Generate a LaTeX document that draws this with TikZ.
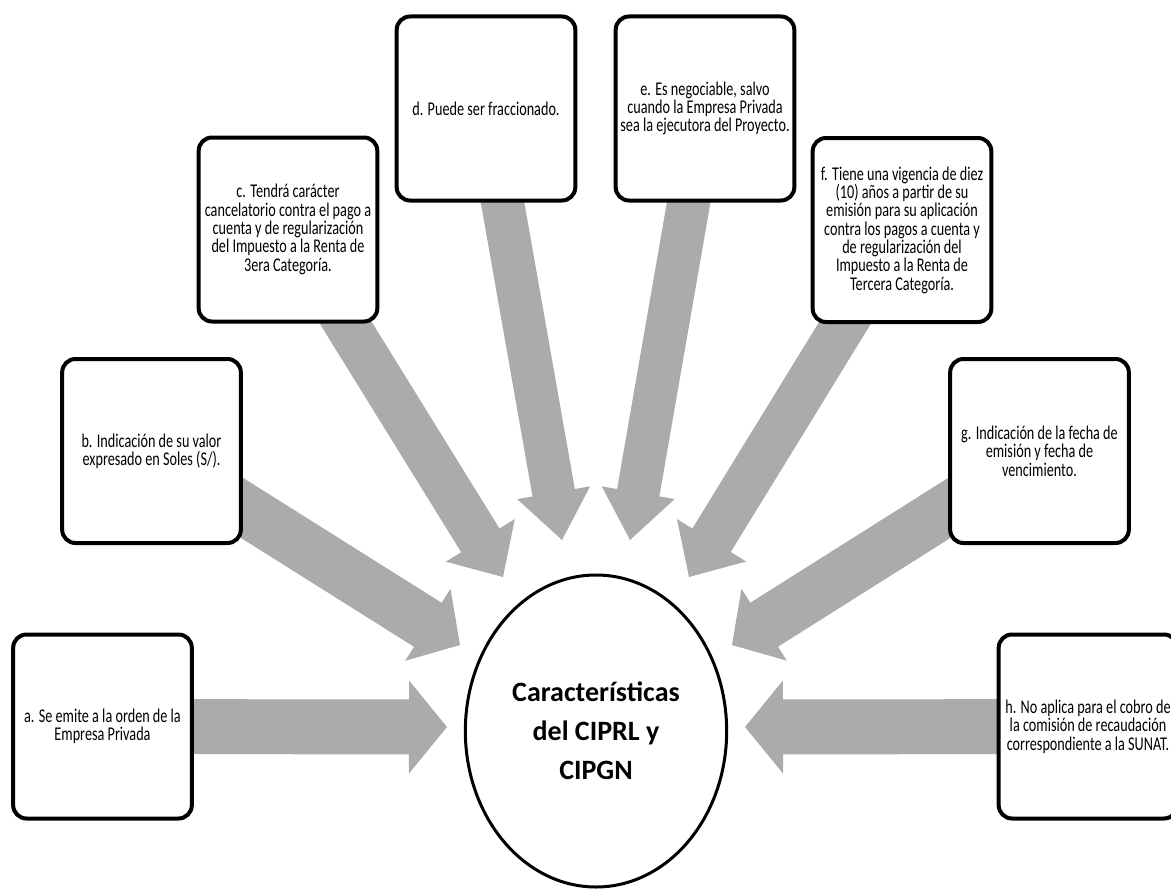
\documentclass[tikz,border=0pt]{standalone}
\usepackage{fontspec}
\setmainfont{Carlito}
\newfontfamily\boxfont{Carlito}[FakeStretch=0.73]
\usetikzlibrary{calc,shapes.geometric}
\definecolor{arrowgray}{HTML}{ABABAB}
\pgfdeclarelayer{arrowlayer}
\pgfsetlayers{arrowlayer,main}

% Block arrow from the centre of node #1 to the tip coordinate #2.
% #3 half shaft width, #4 half head width, #5 head length.
\newcommand\grayarrow[5]{%
  \coordinate (hb) at ($(#2)!#5!(#1.center)$);
  \fill[arrowgray]
    ($(#1.center)!#3!90:(#2)$) -- ($(hb)!#3!90:(#2)$) -- ($(hb)!#4!90:(#2)$)
    -- (#2)
    -- ($(hb)!#4!-90:(#2)$) -- ($(hb)!#3!-90:(#2)$) -- ($(#1.center)!#3!-90:(#2)$)
    -- cycle;%
}

\tikzset{
  infobox/.style={draw=black, line width=3pt, rounded corners=10pt, fill=white,
    minimum width=134pt, minimum height=138pt, align=center,
    font=\boxfont\fontsize{14.6}{13.75}\selectfont, inner sep=2pt},
  core/.style={ellipse, draw=black, line width=2.25pt, fill=white,
    minimum width=196pt, minimum height=234pt, align=center,
    font=\bfseries\fontsize{21}{29.25}\selectfont}
}

\begin{document}
\begin{tikzpicture}[x=0.75pt, y=-0.75pt]
\useasboundingbox (0,0) rectangle (1171,892);

% central ellipse
\node[core] (core) at (596,731) {Características\\del CIPRL y\\CIPGN};

% surrounding boxes
\node[infobox] (a) at (102.5,726.5) {a. Se emite a la orden de la\\Empresa Privada};
\node[infobox] (b) at (151.5,451) {b. Indicación de su valor\\expresado en Soles (S/).};
\node[infobox] (c) at (288,229.5) {c. Tendrá carácter\\cancelatorio contra el pago a\\cuenta y de regularización\\del Impuesto a la Renta de\\3era Categoría.};
\node[infobox] (d) at (486,108.5) {d. Puede ser fraccionado.};
\node[infobox] (e) at (705,108.5) {e. Es negociable, salvo\\cuando la Empresa Privada\\sea la ejecutora del Proyecto.};
\node[infobox] (f) at (902,230) {f. Tiene una vigencia de diez\\(10) años a partir de su\\emisión para su aplicación\\contra los pagos a cuenta y\\de regularización del\\Impuesto a la Renta de\\Tercera Categoría.};
\node[infobox] (g) at (1039.5,451) {g. Indicación de la fecha de\\emisión y fecha de\\vencimiento.};
\node[infobox] (h) at (1088,726.5) {h. No aplica para el cobro de\\la comisión de recaudación\\correspondiente a la SUNAT.};

% arrow tips around the ellipse
\coordinate (ta) at (447,727);
\coordinate (tb) at (460,645);
\coordinate (tc) at (503,577);
\coordinate (td) at (562,540);
\coordinate (te) at (630,540);
\coordinate (tf) at (689,577);
\coordinate (tg) at (732,645);
\coordinate (th) at (745,727);

\begin{pgfonlayer}{arrowlayer}
  \grayarrow{a}{ta}{20.6pt}{34.9pt}{28.5pt}
  \grayarrow{b}{tb}{19.5pt}{31.9pt}{28.5pt}
  \grayarrow{c}{tc}{16.9pt}{30.4pt}{32.3pt}
  \grayarrow{d}{td}{16.1pt}{27.75pt}{36pt}
  \grayarrow{e}{te}{16.1pt}{27.75pt}{36pt}
  \grayarrow{f}{tf}{16.9pt}{30.4pt}{32.3pt}
  \grayarrow{g}{tg}{19.5pt}{31.9pt}{28.5pt}
  \grayarrow{h}{th}{20.6pt}{34.9pt}{28.5pt}
\end{pgfonlayer}
\end{tikzpicture}
\end{document}
